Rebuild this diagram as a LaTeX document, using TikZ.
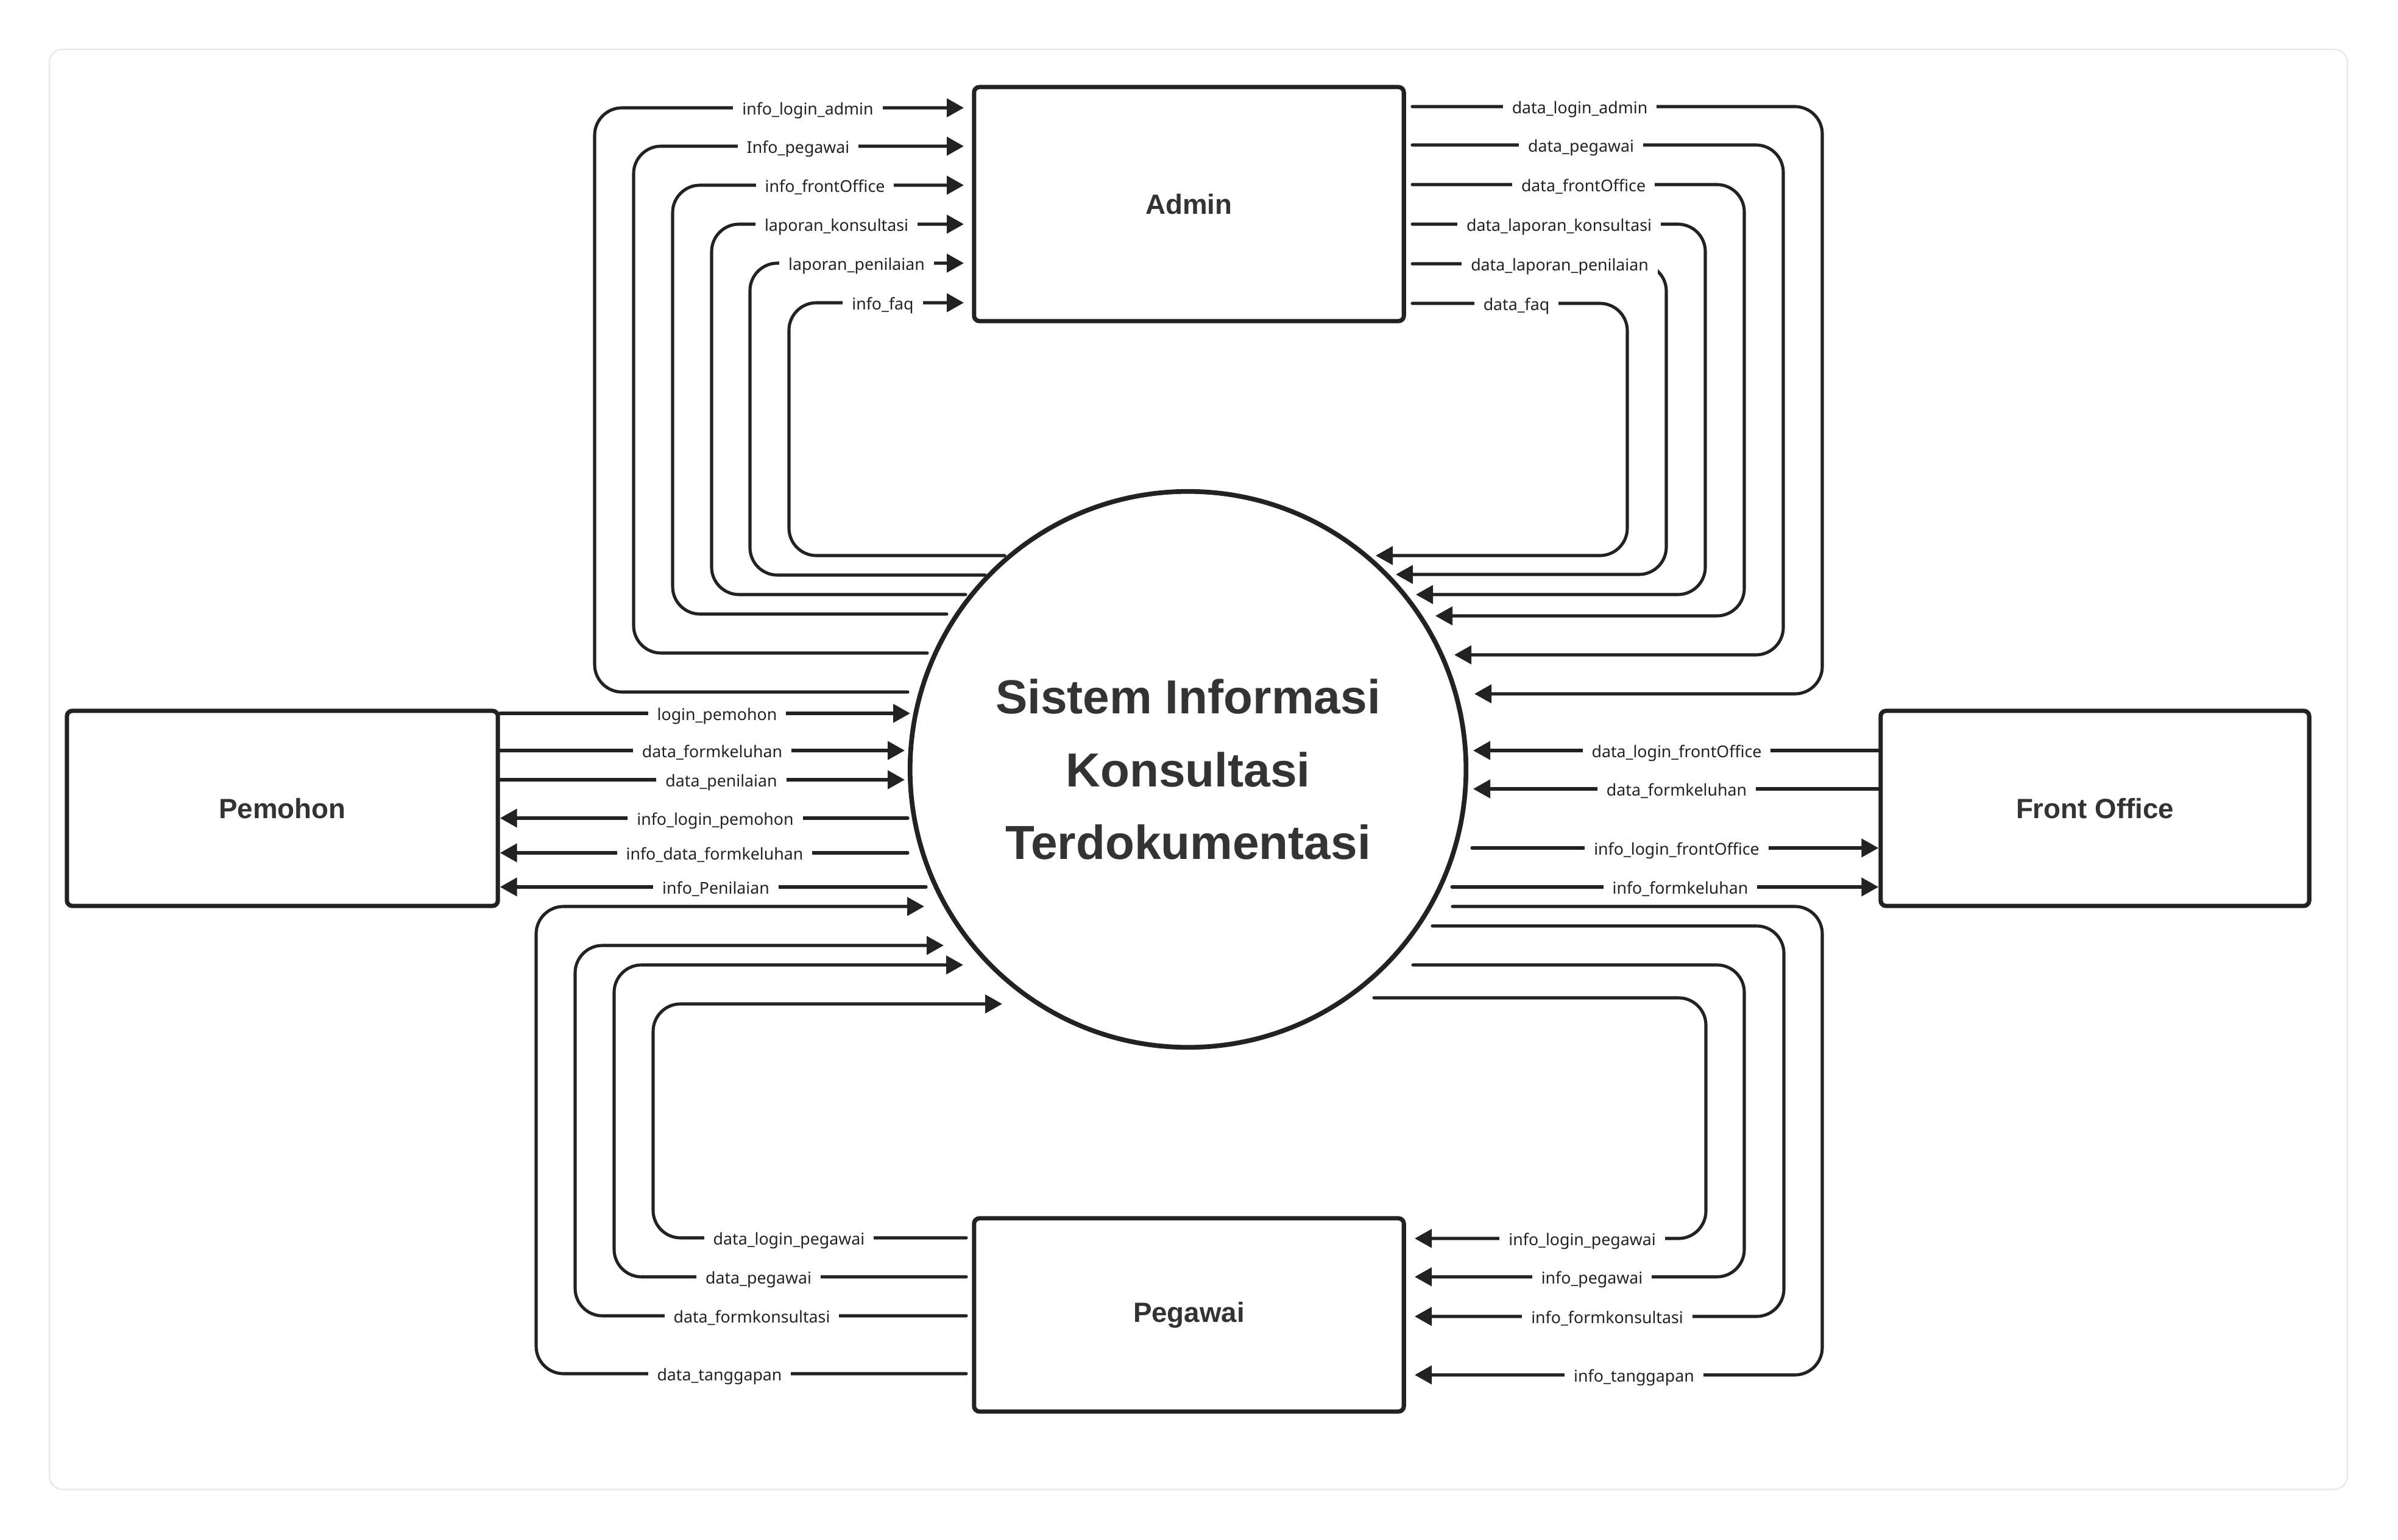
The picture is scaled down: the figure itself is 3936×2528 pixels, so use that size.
\documentclass[tikz,border=0pt]{standalone}
\usepackage{fontspec}
\setmainfont{Noto Sans}
\newfontfamily\headfont{Liberation Sans}
\usetikzlibrary{arrows.meta,calc}
\definecolor{ink}{HTML}{222222}
\definecolor{titleink}{HTML}{333333}
\definecolor{framegray}{HTML}{E6E6E6}
\begin{document}
\begin{tikzpicture}[x=0.01cm,y=-0.01cm,
  flow/.style={draw=ink,line width=1.45pt,rounded corners=0.45cm,line cap=round},
  arr/.style={-{Triangle[length=0.28cm,width=0.30cm]}},
  lbl/.style={fill=white,inner xsep=0.15cm,inner ysep=2pt,anchor=base,yshift=-3.2pt,
    font=\fontsize{7.6pt}{9pt}\selectfont,text=ink},
  entity/.style={draw=ink,line width=2pt,rounded corners=2.5pt,fill=white,text=titleink,
    font=\headfont\bfseries\fontsize{13pt}{15pt}\selectfont},
  process/.style={circle,draw=ink,line width=2.2pt,inner sep=0pt,align=center,text=titleink,
    font=\headfont\bfseries\fontsize{22.3pt}{34pt}\selectfont}
  ]
\useasboundingbox (0,0) rectangle (3936,2528);
\draw[framegray,line width=0.6pt,rounded corners=0.22cm] (81,81) rectangle (3853,2445);

% entities
\node[entity,minimum width=7.05cm,minimum height=3.84cm] (admin) at (1951.5,335) {Admin};
\node[entity,minimum width=7.07cm,minimum height=3.20cm] (pemohon) at (463.5,1327) {Pemohon};
\node[entity,minimum width=7.03cm,minimum height=3.20cm] (fo) at (3438.5,1327) {Front Office};
\node[entity,minimum width=7.05cm,minimum height=3.17cm] (pegawai) at (1951.5,2158.5) {Pegawai};
\node[process,minimum size=9.12cm] (sys) at (1950,1263) {Sistem Informasi\\Konsultasi\\Terdokumentasi};

% system -> Admin (top left)
\foreach \i/\y/\vx/\by/\sx/\lx/\t in {
  1/177/976/1136/1490/1326/info\_login\_admin,
  2/240/1040/1072/1522/1310/Info\_pegawai,
  3/304/1104/1008/1554/1354/info\_frontOffice,
  4/368/1168/976/1585/1373/laporan\_konsultasi,
  5/432/1231/944/1617/1406/laporan\_penilaian,
  6/497/1295/912/1649/1449/info\_faq}
{
  \coordinate (tls\i) at (\sx,\by);
  \coordinate (tle\i) at (1582,\y);
  \draw[flow,arr] (tls\i) -- (\vx,\by) -- (\vx,\y) -- (tle\i);
  \node[lbl] (tll\i) at (\lx,\y) {\t};
}

% Admin -> system (top right)
\foreach \i/\y/\vx/\by/\tx/\lx/\t in {
  1/175/2991/1139/2420/2593/data\_login\_admin,
  2/238/2927/1075/2387/2595/data\_pegawai,
  3/303/2863/1011/2356/2599/data\_frontOffice,
  4/368/2799/976/2324/2559/data\_laporan\_konsultasi,
  5/433/2735/943/2291/2560/data\_laporan\_penilaian,
  6/498/2671/912/2258/2489/data\_faq}
{
  \coordinate (trs\i) at (2318,\y);
  \coordinate (tre\i) at (\tx,\by);
  \draw[flow,arr] (trs\i) -- (\vx,\y) -- (\vx,\by) -- (tre\i);
  \node[lbl] (trl\i) at (\lx,\y) {\t};
}

% Pemohon -> system
\foreach \i/\y/\tx/\lx/\t in {
  1/1171/1494/1177/login\_pemohon,
  2/1232/1485/1169/data\_formkeluhan,
  3/1280/1485/1184/data\_penilaian}
{
  \coordinate (pe\i) at (\tx,\y);
  \draw[flow,arr] (pemohon.east |- pe\i) -- (pe\i);
  \node[lbl] (pl\i) at (\lx,\y) {\t};
}
% system -> Pemohon
\foreach \i/\y/\sx/\lx/\t in {
  4/1343/1490/1174/info\_login\_pemohon,
  5/1400/1490/1173/info\_data\_formkeluhan,
  6/1456/1520/1175/info\_Penilaian}
{
  \coordinate (ps\i) at (\sx,\y);
  \draw[flow,arr] (ps\i) -- (pemohon.east |- ps\i);
  \node[lbl] (pl\i) at (\lx,\y) {\t};
}

% Front Office -> system
\foreach \i/\y/\lx/\t in {
  1/1232/2752/data\_login\_frontOffice,
  2/1295/2752/data\_formkeluhan}
{
  \coordinate (fe\i) at (2418,\y);
  \draw[flow,arr] (fo.west |- fe\i) -- (fe\i);
  \node[lbl] (fl\i) at (\lx,\y) {\t};
}
% system -> Front Office
\foreach \i/\y/\sx/\lx/\t in {
  3/1392/2416/2752/info\_login\_frontOffice,
  4/1456/2383/2758/info\_formkeluhan}
{
  \coordinate (fs\i) at (\sx,\y);
  \draw[flow,arr] (fs\i) -- (fo.west |- fs\i);
  \node[lbl] (fl\i) at (\lx,\y) {\t};
}

% Pegawai -> system (bottom left)
\foreach \i/\by/\vx/\ty/\tx/\lx/\t in {
  1/2032/1072/1648/1645/1295/data\_login\_pegawai,
  2/2096/1008/1584/1581/1245/data\_pegawai,
  3/2160/944/1552/1549/1234/data\_formkonsultasi,
  4/2255/880/1488/1517/1181/data\_tanggapan}
{
  \coordinate (bls\i) at (1586,\by);
  \coordinate (ble\i) at (\tx,\ty);
  \draw[flow,arr] (bls\i) -- (\vx,\by) -- (\vx,\ty) -- (ble\i);
  \node[lbl] (bll\i) at (\lx,\by) {\t};
}

% system -> Pegawai (bottom right)
\foreach \i/\sx/\ty/\vx/\by/\lx/\t in {
  1/2255/1638/2800/2033/2597/info\_login\_pegawai,
  2/2319/1584/2863/2096/2613/info\_pegawai,
  3/2351/1520/2928/2161/2638/info\_formkonsultasi,
  4/2384/1488/2991/2257/2682/info\_tanggapan}
{
  \coordinate (brs\i) at (\sx,\ty);
  \coordinate (bre\i) at (2322,\by);
  \draw[flow,arr] (brs\i) -- (\vx,\ty) -- (\vx,\by) -- (bre\i);
  \node[lbl] (brl\i) at (\lx,\by) {\t};
}
\end{tikzpicture}
\end{document}
